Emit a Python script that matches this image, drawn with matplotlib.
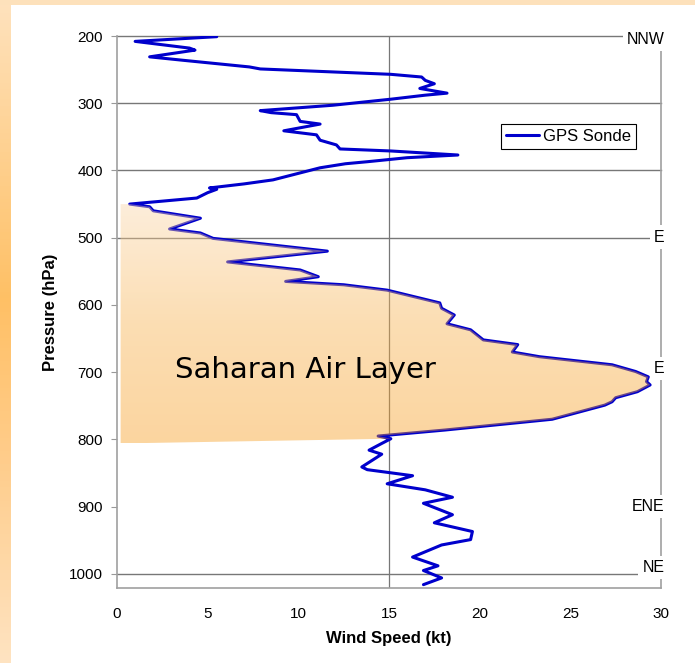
import matplotlib
matplotlib.use('Agg')
import matplotlib.pyplot as plt
import numpy as np
from matplotlib.colors import LinearSegmentedColormap
from matplotlib.patches import Polygon, Rectangle

plt.rcParams['font.family'] = ['Liberation Sans', 'DejaVu Sans']

# GPS dropsonde wind profile
pressure = [201, 208, 218, 221, 231, 236, 246, 249, 257, 261, 266, 271, 278,
            285, 288, 294, 303, 311, 314, 317, 327, 331, 341, 347, 355, 362,
            368, 371, 377, 381, 387, 390, 396, 414, 420, 426, 428, 433, 441,
            450, 454, 460, 471, 487, 493, 501, 520, 536, 548, 558, 565, 570,
            578, 597, 605, 615, 628, 637, 652, 659, 670, 677, 689, 699, 707,
            714, 719, 729, 738, 744, 749, 770, 786, 795, 799, 806, 816, 822,
            841, 845, 854, 866, 875, 886, 895, 912, 924, 937, 949, 957, 975,
            988, 995, 1006, 1016]
speed = [5.5, 1.0, 4.0, 4.3, 1.8, 3.6, 7.3, 7.9, 15.1, 16.8, 17.0, 17.5, 16.7,
         18.2, 17.0, 15.1, 11.9, 7.9, 8.5, 9.9, 10.1, 11.2, 9.2, 11.0, 11.2, 12.1,
         12.3, 15.1, 18.8, 16.0, 13.8, 12.6, 11.2, 8.6, 7.0, 5.1, 5.5, 5.0, 4.4,
         0.7, 1.8, 2.0, 4.6, 2.9, 4.6, 5.3, 11.6, 6.1, 10.1, 11.1, 9.3, 12.5,
         14.9, 17.8, 17.9, 18.6, 18.2, 19.5, 20.2, 22.1, 21.8, 23.3, 27.3, 28.6, 29.3,
         29.2, 29.4, 28.7, 27.5, 27.3, 26.9, 24.0, 18.1, 14.4, 15.1, 14.6, 13.9, 14.6,
         13.5, 13.8, 16.3, 14.9, 17.0, 18.5, 16.9, 18.5, 17.5, 19.6, 19.5, 17.9, 16.3,
         17.7, 16.9, 17.9, 16.9]

# wind direction labels on the right side
dir_labels = ['NNW', 'E', 'E', 'ENE', 'NE']
dir_levels = [205, 499, 695, 900, 990]

# Saharan Air Layer extent
sal_top = 450
sal_bottom_curve = 799
sal_base = 806
sal_left = 0.2

pressure = np.array(pressure)
speed = np.array(speed)

fig = plt.figure(figsize=(6.95, 6.63), dpi=100)
fig.patch.set_facecolor('white')

# orange slide border (left gradient strip + top strip)
strip = fig.add_axes([0, 0, 11 / 695, 1], zorder=-10)
border_cmap = LinearSegmentedColormap.from_list(
    'border', [(0, '#fee2bd'), (0.45, '#ffc065'), (0.7, '#ffcd8c'), (1, '#fee3c1')])
strip.imshow(np.linspace(0, 1, 200).reshape(-1, 1), aspect='auto', cmap=border_cmap)
strip.axis('off')
fig.add_artist(Rectangle((0, 1 - 5 / 663), 1, 5 / 663, transform=fig.transFigure,
                         facecolor='#fde1bb', edgecolor='none', zorder=-9))

ax = fig.add_axes([117 / 695, 1 - 588 / 663, 544 / 695, 552 / 663])

ax.plot(speed, pressure, color='#0000cc', lw=2.2, label='GPS Sonde', zorder=3,
        solid_joinstyle='round', solid_capstyle='round')

# gradient fill for the SAL, clipped to the profile
sel = (pressure >= sal_top) & (pressure <= sal_bottom_curve)
verts = [(sal_left, sal_top)] + list(zip(speed[sel], pressure[sel])) + [(sal_left, sal_base)]
poly = Polygon(verts, closed=True, facecolor='none', edgecolor='none')
ax.add_patch(poly)
sal_cmap = LinearSegmentedColormap.from_list('sal', ['#fbd6a8', '#f7b04a', '#f69b1b'])
grad = sal_cmap(np.linspace(0, 1, 256)).reshape(-1, 1, 4)
grad[..., 3] = 0.42
img = ax.imshow(grad, extent=[0, 30, sal_base, sal_top], origin='upper',
                aspect='auto', zorder=4, interpolation='bilinear')
img.set_clip_path(poly)

ax.text(3.2, 697, 'Saharan Air Layer', fontsize=21, family='DejaVu Sans',
        ha='left', va='center', zorder=6)

# grid lines
for lev in [200, 300, 400, 500, 1000]:
    ax.axhline(lev, color='#777777', lw=1.0, zorder=1, clip_on=False)
ax.axvline(15, color='#777777', lw=0.9, zorder=1)

ax.set_xlim(0, 30)
ax.set_ylim(1021, 200)
ax.set_xticks(range(0, 31, 5))
ax.set_yticks(range(200, 1001, 100))
ax.tick_params(axis='y', direction='out', length=4, color='#999999', pad=6, labelsize=11)
ax.tick_params(axis='x', length=0, pad=14, labelsize=11)

ax.spines['top'].set_visible(False)
for s in ['left', 'bottom', 'right']:
    ax.spines[s].set_color('#a0a0a0')
    ax.spines[s].set_linewidth(1.2)

ax.set_xlabel('Wind Speed (kt)', fontsize=12, fontweight='bold', va='center')
ax.xaxis.set_label_coords(0.5, -0.091)
ax.set_ylabel('Pressure (hPa)', fontsize=12, fontweight='bold', va='center')
ax.yaxis.set_label_coords(-0.123, 0.5)

for lab, lev in zip(dir_labels, dir_levels):
    ax.text(30.2, lev, lab, fontsize=11.5, ha='right', va='center', zorder=10,
            clip_on=False, bbox=dict(facecolor='white', edgecolor='none', pad=3))

leg = ax.legend(loc='upper left', bbox_to_anchor=(0.706, 0.841), borderaxespad=0,
                fancybox=False, edgecolor='black', fontsize=12, framealpha=1,
                handlelength=2.0, handletextpad=0.2, borderpad=0.3)
leg.get_frame().set_linewidth(0.8)
leg.set_zorder(8)

fig.savefig('out.png', dpi=100)
